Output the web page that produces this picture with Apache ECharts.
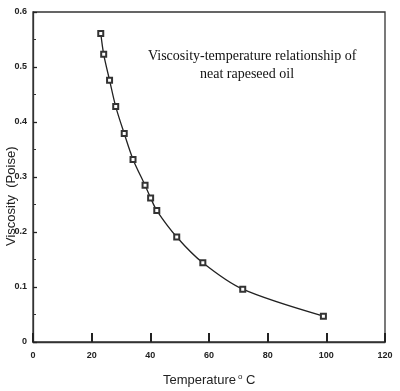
<!DOCTYPE html>
<html>
<head>
<meta charset="utf-8">
<script src="https://cdn.jsdelivr.net/npm/echarts@6/dist/echarts.min.js"></script>
<style>html,body{margin:0;padding:0;background:#fff;}#c{width:400px;height:391px;}</style>
</head>
<body>
<div id="c"></div>
<script>
var temperature = [23.1, 24.1, 26.1, 28.2, 31.1, 34.1, 38.2, 40.1, 42.2, 49.0, 57.9, 71.5, 99.0];
var viscosity = [0.561, 0.523, 0.476, 0.428, 0.379, 0.332, 0.285, 0.262, 0.239, 0.191, 0.144, 0.096, 0.047];
var xTicks = [0, 20, 40, 60, 80, 100, 120];
var yTicks = [0, 0.1, 0.2, 0.3, 0.4, 0.5, 0.6];
var titleLines = ['Viscosity-temperature relationship of', 'neat rapeseed oil'];
var xName = 'Temperature';
var yName = 'Viscosity  (Poise)';

var data = temperature.map(function (t, i) { return [t, viscosity[i]]; });

var chart = echarts.init(document.getElementById('c'));
chart.setOption({
  animation: false,
  backgroundColor: '#fff',
  grid: { left: 33, right: 15, top: 12, bottom: 49, show: true, borderColor: '#333', borderWidth: 1.3, backgroundColor: 'transparent' },
  xAxis: {
    type: 'value', min: xTicks[0], max: xTicks[xTicks.length - 1], interval: 20,
    axisLine: { show: true, onZero: false, lineStyle: { color: '#333', width: 1.3 } },
    axisTick: { show: true, inside: true, length: 9, lineStyle: { color: '#222', width: 2 } },
    splitLine: { show: false },
    axisLabel: { color: '#222', fontSize: 9, fontFamily: 'Liberation Sans', fontWeight: 'bold', margin: 9 }
  },
  yAxis: {
    type: 'value', min: yTicks[0], max: yTicks[yTicks.length - 1], interval: 0.1,
    axisLine: { show: true, onZero: false, lineStyle: { color: '#333', width: 1.3 } },
    axisTick: { show: true, inside: true, length: 4, lineStyle: { color: '#222', width: 1.3 } },
    minorTick: { show: true, splitNumber: 2, length: 3, lineStyle: { color: '#333', width: 1 } },
    splitLine: { show: false },
    axisLabel: { color: '#222', fontSize: 9, fontFamily: 'Liberation Sans', fontWeight: 'bold', margin: 6,
      formatter: function (v) { return v === 0 ? '0' : v.toFixed(1); } }
  },
  series: [{
    type: 'line', data: data, smooth: 0.3,
    symbol: 'emptyRect', symbolSize: 5,
    lineStyle: { color: '#222', width: 1.3 },
    itemStyle: { color: '#333', borderColor: '#333', borderWidth: 0.8 }
  }],
  graphic: [
    { type: 'text', left: 148, top: 49, style: { text: titleLines[0], font: '14px "Liberation Serif"', fill: '#111' } },
    { type: 'text', left: 200, top: 67, style: { text: titleLines[1], font: '14px "Liberation Serif"', fill: '#111' } },
    { type: 'text', x: 163, y: 373, style: { text: '{a|' + xName + '}{s|o}{a| C}', rich: { a: { fontSize: 13, fontFamily: 'Liberation Sans', fill: '#222' }, s: { fontSize: 8, fontFamily: 'Liberation Sans', fill: '#222', verticalAlign: 'top', padding: [0, 0, 7, 2] } } } },
    { type: 'text', x: 5, y: 246, rotation: Math.PI / 2, style: { text: yName, font: '13px "Liberation Sans"', fill: '#222' } }
  ]
});
</script>
</body>
</html>
